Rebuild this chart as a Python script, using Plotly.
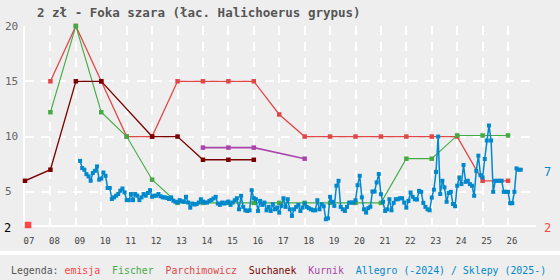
import plotly.graph_objects as go

# ---------------- data ----------------
tick_years = list(range(2007, 2027))
tick_labels = ["07", "08", "09", "10", "11", "12", "13", "14", "15", "16",
               "17", "18", "19", "20", "21", "22", "23", "24", "25", "26"]
y_ticks = [20, 15, 10, 5]

emisja_x = [2007.12]
emisja_y = [2]

fischer_x = [2008, 2009, 2010, 2011, 2012, 2013, 2014, 2015, 2016, 2017,
             2018, 2019, 2020, 2021, 2022, 2023, 2024, 2025, 2026]
fischer_y = [12.2, 20, 12.2, 10, 6.1, 4, 4, 4, 4, 4,
             4, 4, 4, 4, 8, 8, 10.1, 10.1, 10.1]

parch_x = [2008, 2009, 2010, 2011, 2012, 2013, 2014, 2015, 2016, 2017,
           2018, 2019, 2020, 2021, 2022, 2023, 2024, 2025, 2026]
parch_y = [15, 20, 15, 10, 10, 15, 15, 15, 15, 12,
           10, 10, 10, 10, 10, 10, 10, 6, 6]

suchanek_x = [2007, 2008, 2009, 2010, 2012, 2013, 2014, 2015, 2016]
suchanek_y = [6, 7, 15, 15, 10, 10, 7.9, 7.9, 7.9]

kurnik_x = [2014, 2015, 2016, 2018]
kurnik_y = [9, 9, 9, 8]

# Allegro / Sklepy monthly prices, starting March 2009
allegro_start_year = 2009
allegro_start_month = 3
allegro_values = [
    # 2009 (Mar-Dec)
    7.8, 7.15, 7.0, 6.6, 6.4, 6.0, 6.7, 6.9, 7.3, 6.1,
    # 2010
    6.2, 6.75, 6.45, 5.35, 5.35, 4.35, 4.5, 4.65, 4.8, 5.1, 5.3, 4.95,
    # 2011
    4.25, 4.25, 4.8, 4.25, 4.8, 4.65, 4.25, 4.5, 4.8, 4.65, 4.9, 5.15,
    # 2012
    4.55, 4.65, 4.65, 4.8, 4.6, 4.5, 4.5, 4.45, 4.35, 4.5, 4.2, 4.1,
    # 2013
    4.05, 4.25, 4.15, 4.1, 4.55, 4.03, 3.57, 3.94, 3.85, 3.9, 4.03, 4.33,
    # 2014
    4.12, 4.03, 4.03, 4.18, 4.27, 4.4, 4.55, 3.94, 3.82, 4.03, 3.94, 4.03,
    # 2015
    4.12, 3.82, 4.03, 4.24, 4.42, 3.42, 4.64, 3.64, 3.33, 3.27, 3.33, 5.15,
    # 2016
    4.42, 4.33, 3.27, 4.18, 3.82, 4.03, 3.33, 3.64, 3.27, 3.88, 3.42, 3.58,
    # 2017
    3.12, 3.73, 4.42, 3.64, 4.33, 3.42, 2.82, 3.42, 3.64, 3.82, 3.27, 3.58,
    # 2018
    3.94, 3.64, 3.52, 3.42, 3.33, 3.33, 4.24, 3.42, 3.88, 3.7, 2.52, 2.6,
    # 2019
    4.55, 4.1, 3.73, 5.55, 6.0, 3.64, 3.42, 3.27, 3.64, 4.03, 4.03, 4.03,
    # 2020
    4.24, 5.6, 6.45, 4.5, 3.42, 3.12, 3.52, 3.65, 5.03, 5.03, 5.85, 6.61,
    # 2021
    4.79, 4.1, 3.27, 3.42, 4.33, 3.33, 4.0, 4.33, 4.33, 4.42, 4.42, 4.03,
    # 2022
    3.57, 4.18, 4.94, 4.55, 4.33, 4.3, 5.09, 5.0, 4.0, 3.64, 3.42, 3.33,
    # 2023
    4.48, 5.2, 6.8, 10.0, 4.8, 6.0, 5.4, 4.1, 4.9, 5.0, 3.9, 3.7,
    # 2024
    5.55, 6.3, 5.7, 7.43, 5.9, 6.0, 5.7, 5.55, 4.64, 6.9, 8.27, 6.5,
    # 2025
    6.3, 7.97, 9.64, 11.0, 9.64, 5.0, 6.0, 6.0, 6.0, 6.0, 5.0, 5.0,
    # 2026
    5.0, 3.97, 3.97, 5.0, 7.12, 7.0, 7.0,
]
allegro_x = [allegro_start_year + (allegro_start_month - 1 + i) / 12.0
             for i in range(len(allegro_values))]

# ---------------- style ----------------
C_EMISJA = "#ff4444"
C_FISCHER = "#44aa44"
C_PARCH = "#e04848"
C_SUCH = "#7a0000"
C_KURNIK = "#aa44aa"
C_ALLEGRO = "#0088cc"
GREY = "#555555"
MONO = "DejaVu Sans Mono"

fig = go.Figure()

fig.add_trace(go.Scatter(x=parch_x, y=parch_y, mode="lines+markers",
                         line=dict(color=C_PARCH, width=1.3),
                         marker=dict(symbol="square", size=4.5, color=C_PARCH),
                         cliponaxis=False, hoverinfo="skip"))
fig.add_trace(go.Scatter(x=fischer_x, y=fischer_y, mode="lines+markers",
                         line=dict(color=C_FISCHER, width=1.1),
                         marker=dict(symbol="square", size=4.5, color=C_FISCHER),
                         cliponaxis=False, hoverinfo="skip"))
fig.add_trace(go.Scatter(x=suchanek_x, y=suchanek_y, mode="lines+markers",
                         line=dict(color=C_SUCH, width=1.3),
                         marker=dict(symbol="square", size=4.5, color=C_SUCH),
                         cliponaxis=False, hoverinfo="skip"))
fig.add_trace(go.Scatter(x=kurnik_x, y=kurnik_y, mode="lines+markers",
                         line=dict(color=C_KURNIK, width=1.6),
                         marker=dict(symbol="square", size=4.5, color=C_KURNIK),
                         cliponaxis=False, hoverinfo="skip"))
fig.add_trace(go.Scatter(x=allegro_x, y=allegro_values, mode="lines+markers",
                         line=dict(color=C_ALLEGRO, width=1.5),
                         marker=dict(symbol="square", size=4, color=C_ALLEGRO),
                         cliponaxis=False, hoverinfo="skip"))
fig.add_trace(go.Scatter(x=emisja_x, y=emisja_y, mode="markers",
                         marker=dict(symbol="square", size=6.5, color=C_EMISJA),
                         cliponaxis=False, hoverinfo="skip"))

annotations = []
# title
annotations.append(dict(text="<b>2 zł - Foka szara (łac. Halichoerus grypus)</b>",
                        xref="paper", yref="paper", x=0.0196, y=1.07,
                        xanchor="left", yanchor="middle", showarrow=False,
                        font=dict(family=MONO, size=12.5, color=GREY)))
# left y labels
for v in y_ticks:
    annotations.append(dict(text=str(v), xref="paper", yref="y", x=0, y=v,
                            xshift=-22, xanchor="left", yanchor="middle",
                            showarrow=False,
                            font=dict(family=MONO, size=11, color="#666666")))
annotations.append(dict(text="2", xref="paper", yref="y", x=0, y=2,
                        xshift=-23, yshift=-3, xanchor="left", yanchor="middle",
                        showarrow=False,
                        font=dict(family=MONO, size=12, color="#000000")))
# right labels (last values)
annotations.append(dict(text=str(round(allegro_values[-1])), xref="paper", yref="y",
                        x=1, y=allegro_values[-1], xshift=6, yshift=-2,
                        xanchor="left", yanchor="middle", showarrow=False,
                        font=dict(family=MONO, size=12, color=C_ALLEGRO)))
annotations.append(dict(text=str(emisja_y[-1]), xref="paper", yref="y",
                        x=1, y=emisja_y[-1], xshift=6, yshift=-3,
                        xanchor="left", yanchor="middle", showarrow=False,
                        font=dict(family=MONO, size=12, color=C_EMISJA)))
# legend line
SP = "&nbsp;&nbsp;"
legend_html = (
    f"<span style='color:{GREY}'>Legenda:</span>&nbsp;"
    f"<span style='color:{C_EMISJA}'>emisja</span>{SP}"
    f"<span style='color:{C_FISCHER}'>Fischer</span>{SP}"
    f"<span style='color:{C_PARCH}'>Parchimowicz</span>{SP}"
    f"<span style='color:{C_SUCH}'>Suchanek</span>{SP}"
    f"<span style='color:{C_KURNIK}'>Kurnik</span>{SP}"
    f"<span style='color:{C_ALLEGRO}'>Allegro (-2024) / Sklepy (2025-)</span>"
)
annotations.append(dict(text=legend_html, xref="paper", yref="paper",
                        x=-0.0313, y=-0.231, xanchor="left", yanchor="middle",
                        showarrow=False,
                        font=dict(family=MONO, size=9.9, color=GREY)))

shapes = [dict(type="rect", xref="paper", yref="paper",
               x0=-0.06, x1=1.06, y0=-0.1508, y1=-0.1307,
               fillcolor="#ffffff", line=dict(width=0), layer="below")]

fig.update_layout(
    width=560, height=280,
    margin=dict(l=25, r=24, t=26, b=55, pad=0),
    paper_bgcolor="#eeeeee", plot_bgcolor="#eeeeee",
    showlegend=False,
    annotations=annotations,
    shapes=shapes,
    xaxis=dict(range=[2007, 2027.1], tickvals=tick_years, ticktext=tick_labels,
               showgrid=True, gridcolor="#ffffff", gridwidth=1.5,
               griddash="9px,7px", showline=True, linecolor="#ffffff",
               linewidth=2, ticks="", zeroline=False, layer="below traces",
               tickfont=dict(family=MONO, size=9, color="#444444"),
               ticklabelshift=4, ticklabelstandoff=6, fixedrange=True),
    yaxis=dict(range=[2, 20], tickvals=y_ticks, showticklabels=False,
               showgrid=True, gridcolor="#ffffff", gridwidth=1.5,
               griddash="9px,7px", showline=True, linecolor="#ffffff",
               linewidth=2, ticks="", zeroline=False, layer="below traces",
               fixedrange=True),
)

fig.write_html("out.html")
